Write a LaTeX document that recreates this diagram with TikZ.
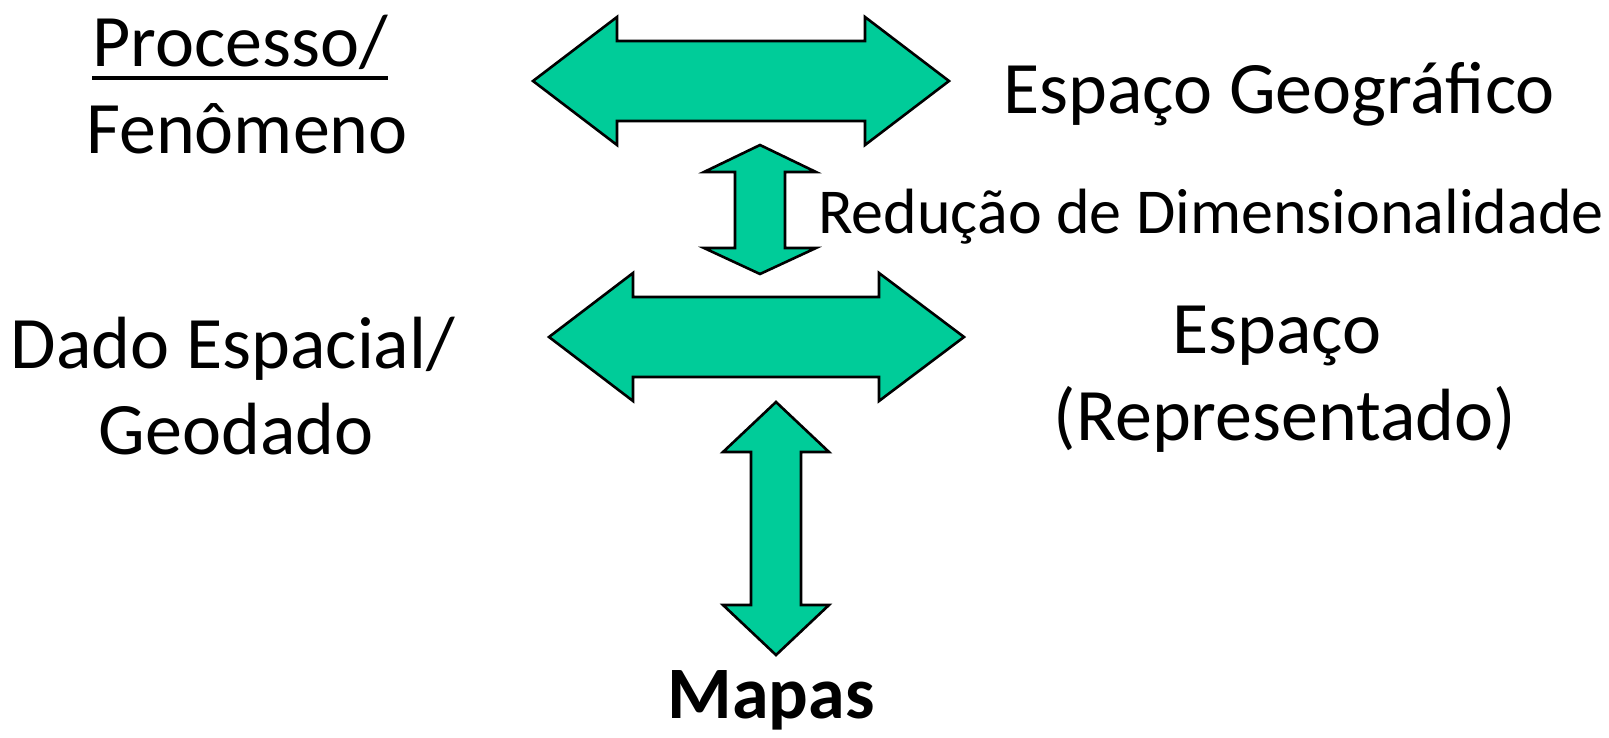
\documentclass[tikz,border=0pt]{standalone}
\usepackage{fontspec}
\setmainfont{Carlito}
\usepackage{tikz}
\definecolor{arrowgreen}{RGB}{0,204,153}

\tikzset{
  bigarrow/.style={fill=arrowgreen,draw=black,line width=2.6pt,line join=miter},
  label/.style={inner sep=0pt,anchor=base,font=\fontsize{74}{87}\selectfont},
  smalllabel/.style={inner sep=0pt,anchor=base,font=\fontsize{64}{75}\selectfont}
}

\begin{document}
\begin{tikzpicture}[x=1pt,y=-1pt]
  \useasboundingbox (0,0) rectangle (1609,737);

  % horizontal arrows
  \draw [bigarrow] (533,81) -- (617,17) -- (617,41) -- (865,41) -- (865,17)
  -- (949,81) -- (865,145) -- (865,121) -- (617,121) -- (617,145) -- cycle;
  \draw [bigarrow] (549,337) -- (633,273) -- (633,297) -- (879,297) -- (879,273)
  -- (964,337) -- (879,401) -- (879,377) -- (633,377) -- (633,401) -- cycle;

  % vertical arrows
  \draw [bigarrow] (760,145) -- (816,172) -- (785,172) -- (785,248) -- (816,248)
  -- (760,274) -- (704,248) -- (735,248) -- (735,172) -- (704,172) -- cycle;
  \draw [bigarrow] (776,402) -- (829,452) -- (801,452) -- (801,605) -- (829,605)
  -- (776,655) -- (723,605) -- (751,605) -- (751,452) -- (723,452) -- cycle;

  % left column
  \node [label] (proc) at (240,66) {Processo/};
  \draw [line width=4pt] ([yshift=-12pt]proc.base west) -- ([yshift=-12pt]proc.base east);
  \node [label] (fen) at (247,153) {Fenômeno};
  \node [label] (dado) at (233,368) {Dado Espacial/};
  \node [label] (geo) at (236,454) {Geodado};

  % right column
  \node [label] (espgeo) at (1279,113) {Espaço Geográfico};
  \node [smalllabel] (reduc) at (1211,233) {Redução de Dimensionalidade};
  \node [label] (esp) at (1277,353) {Espaço};
  \node [label] (repr) at (1285,440) {(Representado)};

  % bottom
  \node [label,font=\fontsize{74}{87}\selectfont\bfseries] (mapas) at (771,718) {Mapas};
\end{tikzpicture}
\end{document}
